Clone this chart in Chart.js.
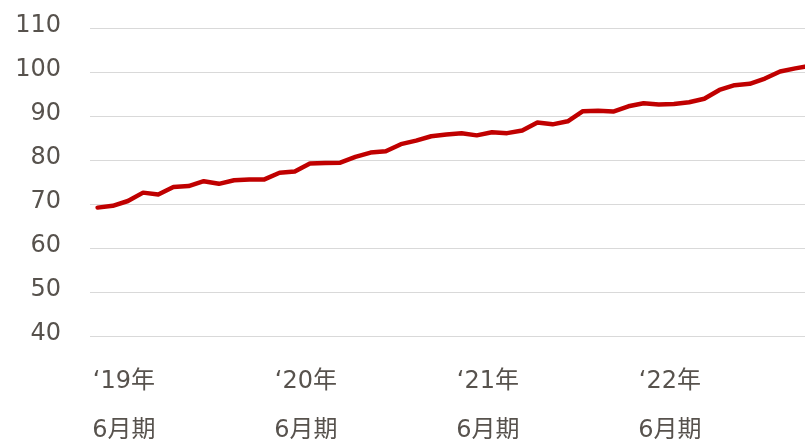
<!DOCTYPE html>
<html>
<head>
<meta charset="utf-8">
<script src="https://cdn.jsdelivr.net/npm/chart.js@4/dist/chart.umd.min.js"></script>
<style>
  html, body { margin: 0; padding: 0; overflow: hidden; background: #ffffff; width: 805px; height: 439px; }
  canvas { display: block; position: absolute; left: 0; top: 0; }
</style>
</head>
<body>
<canvas id="c" width="818" height="439"></canvas>
<script>
// Monthly categories (Apr 2019 .. Mar 2023)
const categories = [];
for (let y = 2019, m = 4, i = 0; i < 48; i++) {
  categories.push(y + '-' + String(m).padStart(2, '0'));
  m++; if (m > 12) { m = 1; y++; }
}
const values = [
  69.3, 69.7, 70.8, 72.7, 72.3, 74.0, 74.2, 75.3, 74.7, 75.5, 75.7, 75.7,
  77.2, 77.5, 79.3, 79.4, 79.5, 80.8, 81.8, 82.1, 83.7, 84.5, 85.5, 85.9,
  86.2, 85.7, 86.4, 86.2, 86.8, 88.6, 88.2, 88.9, 91.2, 91.3, 91.1, 92.3,
  93.0, 92.7, 92.8, 93.2, 94.0, 96.0, 97.1, 97.4, 98.6, 100.2, 100.9, 101.5
];
const tickCategories = ['2019-06', '2020-06', '2021-06', '2022-06'];
const yearLabels = ['\u201819年', '\u201820年', '\u201821年', '\u201822年'];
const periodLabel = '6月期';
const yTicks = [40, 50, 60, 70, 80, 90, 100, 110];

const fontFamily = '"DejaVu Sans", Verdana, "Noto Sans CJK JP", sans-serif';
const textColor = '#57524d';

new Chart(document.getElementById('c'), {
  type: 'line',
  data: {
    labels: categories,
    datasets: [{
      data: values,
      borderColor: '#c00000',
      borderWidth: 4.5,
      borderJoinStyle: 'round',
      borderCapStyle: 'round',
      pointRadius: 0,
      tension: 0,
      fill: false
    }]
  },
  options: {
    responsive: false,
    animation: false,
    devicePixelRatio: 1,
    layout: { padding: { top: 28.3, right: 0, bottom: 0, left: 0 } },
    plugins: { legend: { display: false }, tooltip: { enabled: false } },
    scales: {
      x: {
        type: 'category',
        offset: true,
        grid: { display: false, drawTicks: false },
        border: { display: false },
        afterFit: (s) => { s.height = 102.3; s.paddingLeft = 0; s.paddingRight = 0; },
        ticks: {
          autoSkip: false,
          maxRotation: 0,
          minRotation: 0,
          padding: 20.3,
          labelOffset: -4,
          color: textColor,
          font: { family: fontFamily, size: 24, lineHeight: 2.06 },
          callback: function (val, idx) {
            const k = tickCategories.indexOf(categories[idx]);
            return k >= 0 ? [yearLabels[k], periodLabel] : '';
          }
        }
      },
      y: {
        min: yTicks[0],
        max: yTicks[yTicks.length - 1],
        afterBuildTicks: (s) => { s.ticks = yTicks.map(v => ({ value: v })); },
        afterFit: (s) => { s.width = 90; s.paddingTop = 0; s.paddingBottom = 0; },
        grid: { color: '#d9d9d9', lineWidth: 1, drawTicks: false },
        border: { display: false },
        ticks: {
          padding: 29,
          labelOffset: -3,
          color: textColor,
          font: { family: fontFamily, size: 24 }
        }
      }
    }
  }
});
</script>
</body>
</html>
